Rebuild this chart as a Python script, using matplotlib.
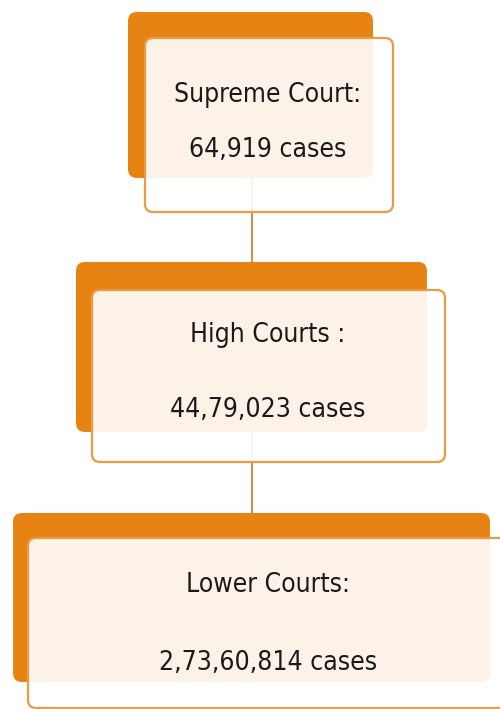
import matplotlib
matplotlib.use("Agg")
import matplotlib.pyplot as plt
from matplotlib.patches import FancyBboxPatch

# data
courts = ["Supreme Court:", "High Courts :", "Lower Courts:"]
cases = ["64,919", "44,79,023", "2,73,60,814"]

# layout in pixel units (x0, y0, x1, y1), y measured from top
back_boxes = [(128, 12, 373, 178), (76, 262, 427, 432), (13, 513, 490, 682)]
front_boxes = [(145, 38, 393, 212), (92, 290, 445, 462), (28, 538, 510, 708)]
text_y = [(95, 150), (335, 410), (585, 663)]
text_x = 268

orange = "#e68312"
edge = "#eb9a45"

fig = plt.figure(figsize=(5, 7.09), dpi=100)
ax = fig.add_axes([0, 0, 1, 1])
ax.set_xlim(0, 500)
ax.set_ylim(709, 0)
ax.axis("off")

# connector line behind everything
ax.plot([252, 252], [100, 600], color="#c9782b", lw=1.2, zorder=1)

for i in range(len(courts)):
    x0, y0, x1, y1 = back_boxes[i]
    ax.add_patch(FancyBboxPatch((x0, y0), x1 - x0, y1 - y0,
                                boxstyle="round,pad=0,rounding_size=9",
                                fc=orange, ec="none", zorder=2))
    x0, y0, x1, y1 = front_boxes[i]
    ax.add_patch(FancyBboxPatch((x0, y0), x1 - x0, y1 - y0,
                                boxstyle="round,pad=0,rounding_size=8",
                                fc=(1, 1, 1, 0.9), ec=edge, lw=1.6, zorder=3))
    ax.text(text_x, text_y[i][0], courts[i], ha="center", va="center",
            fontsize=19, family="DejaVu Sans", fontstretch="condensed",
            color="#1a1a1a", zorder=4)
    ax.text(text_x, text_y[i][1], cases[i] + " cases", ha="center", va="center",
            fontsize=19, family="DejaVu Sans", fontstretch="condensed",
            color="#1a1a1a", zorder=4)

fig.savefig("out.png", dpi=100)
